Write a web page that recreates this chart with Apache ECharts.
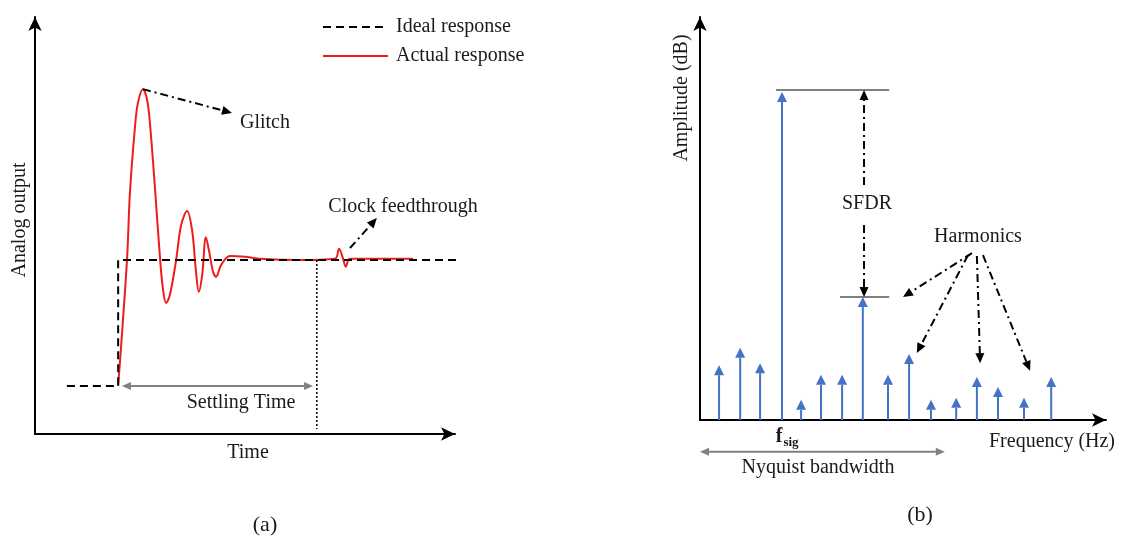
<!DOCTYPE html>
<html>
<head>
<meta charset="utf-8">
<script src="https://cdn.jsdelivr.net/npm/echarts@6/dist/echarts.min.js"></script>
<style>
  html, body { margin: 0; padding: 0; background: #fff; }
  #chart { width: 1121px; height: 545px; }
</style>
</head>
<body>
<div id="chart"></div>
<script>
// ---- (a) DAC step response, time 0-100, output 0-100 ----
const idealT = [7.6, 19.8, 19.8, 101];
const idealV = [11.5, 11.5, 41.7, 41.7];

const actualT = [19.8, 21.9, 22.6, 23.8, 24.5, 25.7, 26.7, 27.4, 28.6, 29.8, 30.5, 31.2, 32.1, 33.6, 34.8, 36.2,
  37.4, 38.3, 39.0, 39.8, 40.7, 41.4, 42.4, 43.1, 44.3, 46.4, 50.0, 53.6, 63.1, 71.4, 72.4, 73.3, 74.0, 75.0, 90.0];
const actualV = [11.5, 41.7, 57.8, 73.6, 79.4, 82.7, 80.1, 74.1, 58.5, 41.7, 34.5, 31.4, 33.3, 41.7, 50.1, 53.5,
  48.9, 39.3, 34.1, 38.1, 47.2, 44.1, 38.9, 37.7, 40.5, 42.7, 42.5, 42.0, 41.7, 42.0, 44.4, 42.2, 40.1, 42.0, 42.0];

// annotation arrows [x1, y1, x2, y2]
const glitchArrow = [25.7, 82.7, 46.9, 77.0];
const clockArrow = [75.0, 44.6, 81.4, 51.8];
const settlingArrow = [20.7, 11.5, 66.2, 11.5];
const settlingMarker = [67.1, 41.7, 67.1, 1.2];

// ---- (b) spectrum, frequency 0-100, amplitude 0-100 dB ----
const freqs = [4.7, 9.9, 14.8, 20.2, 24.9, 29.8, 35.0, 40.1, 46.3, 51.5, 56.9, 63.1, 68.2, 73.4, 79.8, 86.5];
const amps = [13.6, 17.9, 14.1, 81.4, 5.0, 11.2, 11.2, 30.5, 11.2, 16.4, 5.0, 5.5, 10.7, 8.2, 5.5, 10.7];

const sfdrLevels = [[18.7, 81.9, 46.6, 81.9], [34.5, 30.5, 46.6, 30.5]];
const sfdrArrows = [[40.4, 58.3, 40.4, 81.9], [40.4, 48.4, 40.4, 30.5]];
const harmonicArrows = [
  [67.0, 41.4, 50.0, 30.5],
  [66.0, 40.9, 53.4, 16.6],
  [68.2, 40.7, 69.0, 14.1],
  [69.7, 40.9, 81.3, 12.2]
];
const nyquistArrow = [0, -7.9, 60.3, -7.9];

const SERIF = '"Liberation Serif", "Times New Roman", serif';
const TXT = '#1a1a1a';
const BLUE = '#4472C4';
const GRAY = '#808080';
const DASHDOT = [8, 4, 2, 4];

const chart = echarts.init(document.getElementById('chart'));

function head(tip, from, len, half) {
  const dx = tip[0] - from[0], dy = tip[1] - from[1];
  const d = Math.hypot(dx, dy) || 1;
  const ux = dx / d, uy = dy / d;
  const bx = tip[0] - ux * len, by = tip[1] - uy * len;
  return {
    base: [bx, by],
    points: [tip, [bx - uy * half, by + ux * half], [bx + uy * half, by - ux * half]]
  };
}

// line + optional arrow heads, drawn from data through the axes
function arrowSeries(data, idx, opt) {
  return {
    type: 'custom',
    xAxisIndex: idx, yAxisIndex: idx,
    data: data,
    encode: { x: [0, 2], y: [1, 3] },
    clip: false, silent: true, z: opt.z || 4,
    renderItem: function (params, api) {
      let p1 = api.coord([api.value(0), api.value(1)]);
      let p2 = api.coord([api.value(2), api.value(3)]);
      const children = [];
      const L = opt.len || 10, H = opt.half || 4.5;
      let a = p1, b = p2;
      if (opt.end) {
        const h = head(p2, p1, L, H);
        b = h.base;
        children.push({ type: 'polygon', shape: { points: h.points }, style: { fill: opt.color } });
      }
      if (opt.start) {
        const h = head(p1, p2, L, H);
        a = h.base;
        children.push({ type: 'polygon', shape: { points: h.points }, style: { fill: opt.color } });
      }
      children.unshift({
        type: 'line',
        shape: { x1: a[0], y1: a[1], x2: b[0], y2: b[1] },
        style: { stroke: opt.color, lineWidth: opt.width || 2, lineDash: opt.dash || null }
      });
      return { type: 'group', children: children };
    }
  };
}

function text(str, x, y, size, extra) {
  return Object.assign({
    type: 'text', x: x, y: y,
    style: {
      text: str, fill: TXT,
      font: (extra && extra.weight ? extra.weight + ' ' : '') + size + 'px ' + SERIF,
      textAlign: 'center', textVerticalAlign: 'middle'
    }
  }, extra && extra.rotation ? { rotation: extra.rotation } : {});
}

function axis(idx, max, min) {
  return {
    type: 'value', gridIndex: idx, min: min || 0, max: max,
    axisLine: {
      show: true, onZero: false, symbol: ['none', 'arrow'], symbolSize: [10, 14],
      lineStyle: { color: '#000', width: 2 }
    },
    axisTick: { show: false }, axisLabel: { show: false }, splitLine: { show: false }
  };
}

const option = {
  backgroundColor: '#fff',
  animation: false,
  grid: [
    { left: 35, top: 17, width: 420, height: 417 },
    { left: 700, top: 17, width: 406, height: 403 }
  ],
  xAxis: [axis(0, 100), axis(1, 100)],
  yAxis: [axis(0, 100), axis(1, 100)],
  legend: {
    orient: 'vertical', left: 317, top: 12, itemWidth: 65, itemHeight: 14, itemGap: 9,
    data: ['Ideal response', 'Actual response'],
    itemStyle: { opacity: 0 },
    textStyle: { fontFamily: SERIF, fontSize: 20, color: TXT, padding: [0, 0, 0, 3] }
  },
  series: [
    {
      name: 'Actual response', type: 'line', xAxisIndex: 0, yAxisIndex: 0,
      data: actualT.map((t, i) => [t, actualV[i]]),
      smooth: 0.35, symbol: 'none', clip: false, z: 2,
      lineStyle: { color: '#ee1c1c', width: 2 }, itemStyle: { color: '#ee1c1c' }
    },
    {
      name: 'Ideal response', type: 'line', xAxisIndex: 0, yAxisIndex: 0,
      data: idealT.map((t, i) => [t, idealV[i]]),
      symbol: 'none', clip: false, z: 3,
      lineStyle: { color: '#000', width: 2, type: [8, 5] }, itemStyle: { color: '#000' }
    },
    arrowSeries([glitchArrow, clockArrow], 0, { color: '#000', end: true, dash: DASHDOT }),
    arrowSeries([settlingArrow], 0, { color: GRAY, start: true, end: true, len: 9, half: 4 }),
    arrowSeries([settlingMarker], 0, { color: '#000', width: 1.5, dash: [2, 2] }),
    {
      type: 'custom', xAxisIndex: 1, yAxisIndex: 1,
      data: freqs.map((f, i) => [f, amps[i]]),
      encode: { x: 0, y: 1 }, clip: false, silent: true, z: 3,
      renderItem: function (params, api) {
        const p0 = api.coord([api.value(0), 0]);
        const p1 = api.coord([api.value(0), api.value(1)]);
        const h = head(p1, p0, 10, 5);
        return {
          type: 'group', children: [
            { type: 'line', shape: { x1: p0[0], y1: p0[1], x2: h.base[0], y2: h.base[1] },
              style: { stroke: BLUE, lineWidth: 2 } },
            { type: 'polygon', shape: { points: h.points }, style: { fill: BLUE } }
          ]
        };
      }
    },
    arrowSeries(sfdrLevels, 1, { color: GRAY, width: 2 }),
    arrowSeries(sfdrArrows, 1, { color: '#000', end: true, dash: DASHDOT }),
    arrowSeries(harmonicArrows, 1, { color: '#000', end: true, dash: DASHDOT }),
    arrowSeries([nyquistArrow], 1, { color: GRAY, start: true, end: true, len: 9, half: 4 })
  ],
  graphic: [
    text('Glitch', 265, 123, 20),
    text('Clock feedthrough', 403, 207, 20),
    text('Settling Time', 241, 403, 20),
    text('Time', 248, 453, 20),
    text('Analog output', 20, 220, 20, { rotation: Math.PI / 2 }),
    text('(a)', 265, 525, 22),
    text('Amplitude (dB)', 682, 98, 20, { rotation: Math.PI / 2 }),
    text('SFDR', 867, 204, 20),
    text('Harmonics', 978, 237, 20),
    text('Frequency (Hz)', 1052, 442, 20),
    text('f', 779, 437, 20, { weight: 'bold' }),
    text('sig', 791, 443, 13, { weight: 'bold' }),
    text('Nyquist bandwidth', 818, 468, 20),
    text('(b)', 920, 515, 22)
  ]
};

chart.setOption(option);
</script>
</body>
</html>
